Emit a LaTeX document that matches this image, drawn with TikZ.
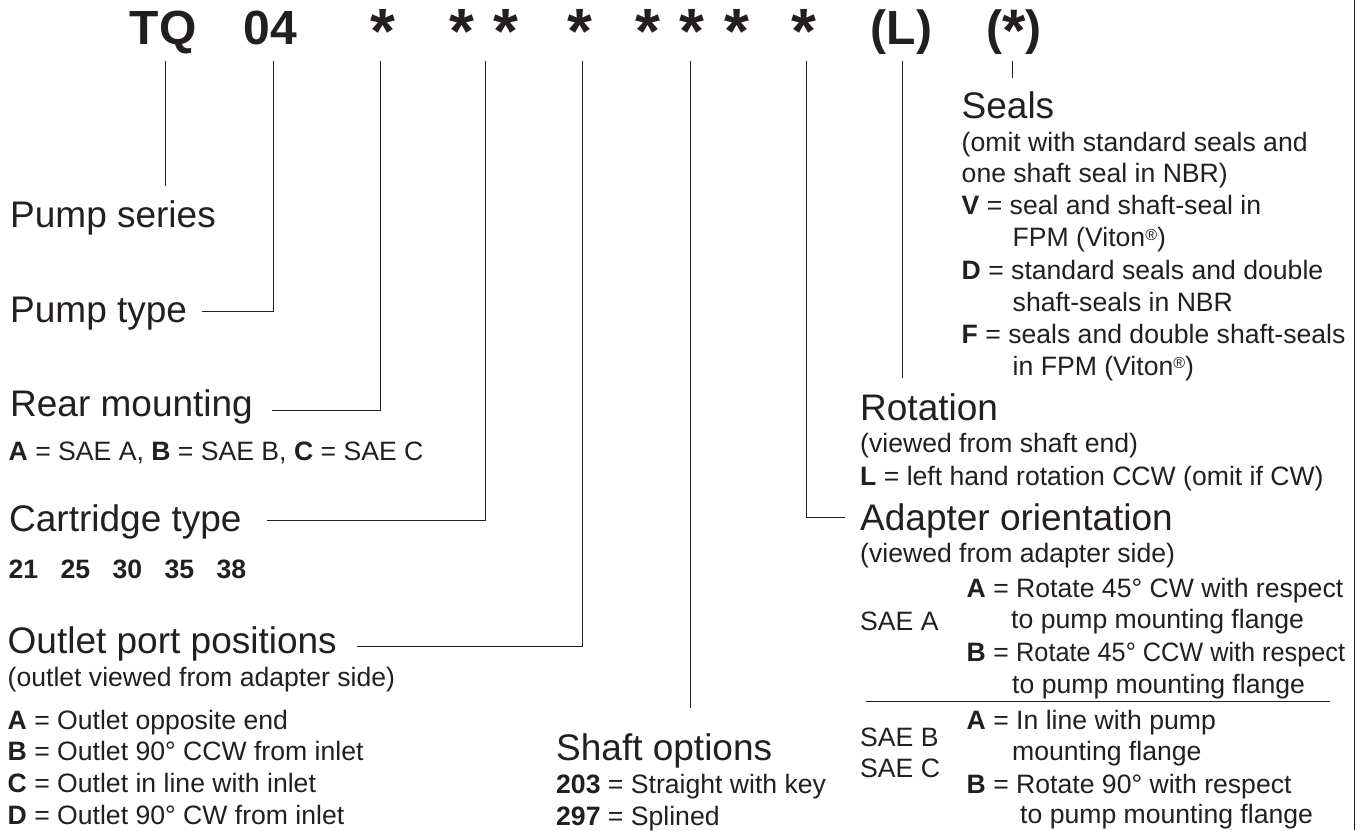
\documentclass[tikz,border=0pt]{standalone}
\usepackage{fontspec}
\setmainfont{Liberation Sans}
\definecolor{ink}{RGB}{35,31,32}
\tikzset{x=1pt,y=-1pt,
 head/.style={inner sep=0,anchor=base west,text=ink,font=\fontsize{37}{37}\selectfont},
 txt/.style={inner sep=0,anchor=base west,text=ink,font=\fontsize{26.6}{26.6}\selectfont},
 code/.style={inner sep=0,anchor=base,text=ink,font=\bfseries\fontsize{48}{48}\selectfont},
 star/.style={inner sep=0,anchor=base,text=ink,font=\bfseries\fontsize{64}{64}\selectfont},
 ln/.style={line width=0.9pt,ink}}
\newcommand{\sreg}{\raisebox{6.5pt}{\fontsize{16}{16}\selectfont ®}}
\begin{document}
\begin{tikzpicture}
\useasboundingbox (0,0) rectangle (1368,830);
\fill[white] (0,0) rectangle (1368,830);
\coordinate (frameT) at (1354,0); \coordinate (frameB) at (1354,830);
\draw[ln] (frameT) -- (frameB);
\node[code] (tq) at (163,44) {TQ};
\node[code] (n04) at (270.5,44) {04};
\node[star] (s1) at (383,53) {*};
\node[star] (s2) at (461.5,53) {*};
\node[star] (s3) at (506,53) {*};
\node[star] (s4) at (580,53) {*};
\node[star] (s5) at (647.5,53) {*};
\node[star] (s6) at (692,53) {*};
\node[star] (s7) at (737,53) {*};
\node[star] (s8) at (804,53) {*};
\node[code] (l) at (901.5,44) {(L)};
\node[code] (st) at (1014,44) {(\raisebox{-7pt}{\fontsize{60}{60}\selectfont *})};
% labels
\node[head] (series) at (10,227.7) {Pump series};
\node[head] (ptype) at (10,322) {Pump type};
\node[head] (rear) at (10,416.7) {Rear mounting};
\node[txt] at (8.5,460) {\textbf{A} = SAE A, \textbf{B} = SAE B, \textbf{C} = SAE C};
\node[head] (cart) at (9,531) {Cartridge type};
\node[txt] at (8.5,578) {\textbf{21\hspace{22.4pt}25\hspace{22.4pt}30\hspace{22.4pt}35\hspace{22.4pt}38}};
\node[head] (outlet) at (7.5,653.3) {Outlet port positions};
\node[txt] at (7.5,686) {(outlet viewed from adapter side)};
\node[txt] at (7.5,729) {\textbf{A} = Outlet opposite end};
\node[txt] at (7.5,760.5) {\textbf{B} = Outlet 90° CCW from inlet};
\node[txt] at (7.5,792) {\textbf{C} = Outlet in line with inlet};
\node[txt] at (7.5,824) {\textbf{D} = Outlet 90° CW from inlet};
\node[head] (shaft) at (556,760.7) {Shaft options};
\node[txt] at (556,793) {\textbf{203} = Straight with key};
\node[txt] at (556,825) {\textbf{297} = Splined};
\node[head] (seals) at (961.5,118.3) {Seals};
\node[txt] at (961.5,151) {(omit with standard seals and};
\node[txt] at (961.5,182.7) {one shaft seal in NBR)};
\node[txt] at (961.5,214.5) {\textbf{V} = seal and shaft-seal in};
\node[txt] at (1012.5,246.7) {FPM (Viton\sreg)};
\node[txt] at (961.5,279) {\textbf{D} = standard seals and double};
\node[txt] at (1012.5,311) {shaft-seals in NBR};
\node[txt] at (961.5,343.3) {\textbf{F} = seals and double shaft-seals};
\node[txt] at (1012.5,375) {in FPM (Viton\sreg)};
\node[head] (rot) at (860,420) {Rotation};
\node[txt] at (860,452.7) {(viewed from shaft end)};
\node[txt] at (860,485) {\textbf{L} = left hand rotation CCW (omit if CW)};
\node[head] (adapter) at (860,530) {Adapter orientation};
\node[txt] at (860,562.7) {(viewed from adapter side)};
\node[txt] at (860,630) {SAE A};
\node[txt] at (966.5,597) {\textbf{A} = Rotate 45° CW with respect};
\node[txt] at (1011,628) {to pump mounting flange};
\node[txt] at (966.5,661) {\textbf{B} = \scalebox{0.95}[1]{Rotate 45° CCW with respect}};
\node[txt] at (1012,693) {to pump mounting flange};
\node[txt] at (860,746) {SAE B};
\node[txt] at (860,777) {SAE C};
\node[txt] at (966.5,729) {\textbf{A} = In line with pump};
\node[txt] at (1012,760) {mounting flange};
\node[txt] at (966.5,793) {\textbf{B} = Rotate 90° with respect};
\node[txt] at (1020,823) {to pump mounting flange};
% connectors
\coordinate (a1) at (165,61);   \coordinate (a2) at (165,185.7);
\coordinate (b1) at (273,61);   \coordinate (b2) at (202,311);
\coordinate (c1) at (380.5,61); \coordinate (c2) at (272,410.7);
\coordinate (d1) at (485,61);   \coordinate (d2) at (267,520.7);
\coordinate (e1) at (582,61);   \coordinate (e2) at (357,646);
\coordinate (f1) at (690.5,61); \coordinate (f2) at (690.5,707.7);
\coordinate (g1) at (806,61);   \coordinate (g2) at (845,517);
\coordinate (h1) at (902,61);   \coordinate (h2) at (902,378);
\coordinate (i1) at (1012,61);  \coordinate (i2) at (1012,78);
\coordinate (j1) at (866,701.7);\coordinate (j2) at (1330,701.7);
\draw[ln] (a1) -- (a2);
\draw[ln] (b1) |- (b2);
\draw[ln] (c1) |- (c2);
\draw[ln] (d1) |- (d2);
\draw[ln] (e1) |- (e2);
\draw[ln] (f1) -- (f2);
\draw[ln] (g1) |- (g2);
\draw[ln] (h1) -- (h2);
\draw[ln] (i1) -- (i2);
\draw[ln] (j1) -- (j2);
\end{tikzpicture}
\end{document}
